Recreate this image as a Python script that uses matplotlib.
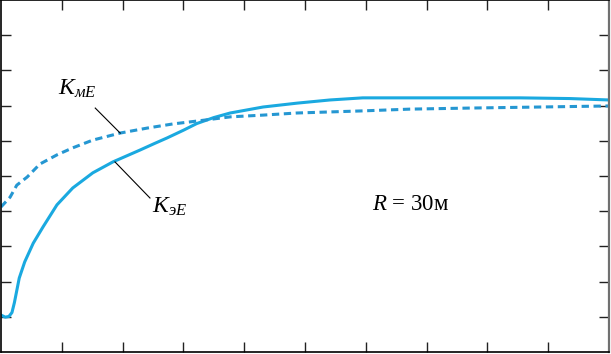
import matplotlib
matplotlib.use("Agg")
import matplotlib.pyplot as plt
import numpy as np

# K_эE (solid) curve (axis units 0..10)
ke_x = [0.0, 0.07, 0.13, 0.18, 0.22, 0.26, 0.30, 0.39, 0.53, 0.69, 0.92, 1.18, 1.51, 1.84,
        2.29, 2.52, 2.73, 3.00, 3.22, 3.50, 3.77, 4.31, 4.87, 5.41, 5.95, 6.73, 7.55,
        8.54, 9.36, 10.0]
ke_y = [1.05, 0.99, 1.01, 1.12, 1.40, 1.75, 2.10, 2.56, 3.09, 3.55, 4.18, 4.66, 5.09, 5.40,
        5.74, 5.92, 6.08, 6.30, 6.49, 6.66, 6.79, 6.96, 7.07, 7.16, 7.22, 7.22, 7.22,
        7.22, 7.20, 7.16]

# K_мE (dashed) curve
km_x = [0.0, 0.15, 0.26, 0.43, 0.64, 0.92, 1.18, 1.51, 1.96, 2.40, 2.83, 3.22,
        3.77, 4.31, 4.87, 5.41, 5.95, 6.73, 7.71, 8.87, 10.0]
km_y = [4.12, 4.40, 4.74, 4.97, 5.34, 5.60, 5.80, 6.02, 6.22, 6.36, 6.48, 6.56,
        6.68, 6.73, 6.79, 6.82, 6.85, 6.90, 6.93, 6.96, 6.99]

xticks = np.arange(1, 10)
yticks = np.arange(1, 10)

plt.rcParams['font.family'] = ['Liberation Serif', 'DejaVu Serif']
plt.rcParams['mathtext.fontset'] = 'custom'
plt.rcParams['mathtext.it'] = 'Liberation Serif:italic'
plt.rcParams['mathtext.rm'] = 'Liberation Serif'

fig = plt.figure(figsize=(6.11, 3.54), dpi=100)
ax = fig.add_axes([1/611, 2/354, 608/611, 352/354])

ax.plot(ke_x, ke_y, color='#1AA9E0', lw=2.2, solid_capstyle='round',
        solid_joinstyle='round')
ax.plot(km_x, km_y, color='#2597D2', lw=2.2, dashes=(2.4, 1.5))

ax.set_xlim(0, 10)
ax.set_ylim(0, 10)
ax.set_xticks(xticks)
ax.set_yticks(yticks)
ax.set_xticklabels([])
ax.set_yticklabels([])
ax.tick_params(direction='in', length=7, width=1, top=True, right=True, color='#222222')
for t in ax.yaxis.get_major_ticks():
    t.tick2line.set_color('#777777')
ax.spines['right'].set_color('#707070')
ax.spines['right'].set_linewidth(1.6)
for s in ['left', 'top', 'bottom']:
    ax.spines[s].set_linewidth(1.2)

# labels and leader lines
ax.text(0.94, 7.30, r'$K_{мE}$', fontsize=17)
ax.plot([1.55, 1.96], [6.93, 6.22], color='black', lw=0.8)
ax.text(2.48, 3.95, r'$K_{эE}$', fontsize=17)
ax.plot([1.875, 2.45], [5.40, 4.375], color='black', lw=0.8)
ax.text(6.10, 4.03, r'$R$ = 30м', fontsize=16.5)

fig.savefig('out.png', dpi=100)
